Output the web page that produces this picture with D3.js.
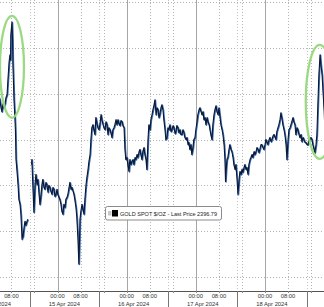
<!DOCTYPE html>
<html><head><meta charset="utf-8">
<script src="https://cdn.jsdelivr.net/npm/d3@7"></script>
<style>html,body{margin:0;padding:0;background:#fff;overflow:hidden}</style>
</head><body>
<svg id="c" width="324" height="307"></svg>
<script>
// ---- data (hours since 12 Apr 2024 00:00, weekend removed) ----
const session1Hours = [3.6,4.0,4.4,4.7,5.1,5.4,5.8,6.1,6.5,6.8,
  7.2,7.5,7.7,7.8,8.2,8.4,8.5,8.7,8.9,9.2,
  9.4,9.6,9.9,10.3,10.6,11.0,11.3,11.7,11.8,12.0,
  12.4,12.7,13.0,13.4,13.7];
const session1Prices = [2398.7,2397.4,2393.9,2392.2,2395.7,2393.9,2395.7,2398.3,2399.6,2406.1,
  2413.9,2417,2414.8,2425.7,2431.3,2423.5,2413.9,2406,2397.4,2390,
  2384.3,2371.3,2367,2360.4,2353.9,2351.7,2347.4,2336.5,2338.7,2337.4,
  2341.7,2344.3,2342.6,2344.3,2345.2];

const session2Hours = [15.0,15.1,15.5,15.8,16.2,16.5,16.9,17.2,17.6,17.9,
  18.3,18.6,18.9,19.3,19.6,20.0,20.3,20.7,21.0,21.4,
  21.7,22.1,22.4,22.8,23.1,23.5,23.8,24.1,24.5,24.8,
  25.2,25.5,25.9,26.2,26.6,26.9,27.3,27.6,28.0,28.3,
  28.7,29.0,29.4,29.7,30.0,30.4,30.7,31.1,31.4,31.6,
  31.8,32.1,32.5,32.8,33.2,33.5,33.9,34.2,34.6,34.9,
  35.3,35.6,35.9,36.3,36.6,37.0,37.3,37.7,38.0,38.4,
  38.7,39.1,39.4,39.8,40.1,40.5,40.8,41.2,41.5,41.8,
  42.2,42.5,42.9,43.2,43.6,43.9,44.3,44.6,45.0,45.3,
  45.7,46.0,46.4,46.7,47.1,47.4,47.7,48.1,48.4,48.8,
  49.1,49.5,49.8,50.2,50.5,50.9,51.2,51.6,51.9,52.3,
  52.6,52.9,53.3,53.6,54.0,54.3,54.7,55.0,55.4,55.7,
  56.1,56.4,56.8,57.1,57.5,57.8,58.2,58.5,58.9,59.2,
  59.5,59.9,60.2,60.6,60.9,61.3,61.6,62.0,62.3,62.7,
  63.0,63.4,63.7,64.1,64.4,64.8,65.1,65.4,65.8,66.1,
  66.5,66.8,67.2,67.5,67.9,68.2,68.6,68.9,69.3,69.6,
  69.9,70.3,70.6,71.0,71.3,71.7,72.0,72.4,72.7,73.1,
  73.4,73.8,74.1,74.5,74.8,75.2,75.5,75.9,76.2,76.6,
  76.9,77.2,77.6,77.9,78.3,78.6,79.0,79.3,79.7,80.0,
  80.4,80.7,81.1,81.4,81.8,82.1,82.3,82.5,82.8,83.1,
  83.5,83.8,84.2,84.5,84.9,85.2,85.6,85.9,86.3,86.6,
  87.0,87.3,87.7,88.0,88.3,88.7,89.0,89.4,89.7,90.1,
  90.4,90.8,91.1,91.5,91.8,92.2,92.5,92.9,93.2,93.6,
  93.9,94.2,94.6,94.9,95.3,95.6,96.0,96.3,96.7,97.0,
  97.4,97.7,98.1,98.4,98.8,99.1,99.5,99.8,100.1,100.5,
  100.8,101.2,101.5,101.9,102.2,102.6,102.9,103.3,103.6,104.0,
  104.3,104.7,105.0,105.3,105.7,106.0,106.4,106.7,107.1,107.4,
  107.8,108.1,108.5,108.8,109.2,109.5,109.9,110.2,110.6,110.9,
  111.3,111.6,111.9,112.3,112.6,113.0,113.3,113.7,114.0,114.4,
  114.7,115.1,115.4,115.8,116.1,116.5,116.8];
const session2Prices = [2369.1,2371.3,2358.3,2348.3,2360.4,2364.8,2360.4,2362.6,2356.1,2351.7,
  2356.1,2360.4,2362.6,2359.1,2358.3,2361.3,2360.4,2357,2360,2359.1,
  2357.4,2356.1,2359.1,2358.3,2355.2,2356.1,2358.3,2356.1,2354.8,2353.9,
  2351.7,2348.7,2347.4,2351.7,2350.4,2353.9,2354.8,2356.1,2359.1,2361.3,
  2358.3,2359.1,2357.4,2356.1,2353.9,2350.4,2346.1,2336.5,2325.7,2334.3,
  2345.2,2348.7,2351.7,2349.6,2347.4,2353.9,2360.4,2363.5,2367,2370.4,
  2373.5,2380,2385.2,2386.5,2384.3,2382.2,2389.6,2387,2385.2,2384.3,
  2386.5,2390.9,2388.7,2386.5,2385.2,2384.3,2387.8,2386.5,2382.2,2385.2,
  2384.3,2383,2380.9,2384.3,2385.2,2386.5,2388.7,2386.5,2388.7,2387,
  2386.1,2388.3,2387.8,2386.1,2385.2,2375.7,2371.3,2372.2,2369.1,2366.1,
  2371.3,2369.1,2370.4,2371.3,2369.1,2372.2,2371.3,2373.5,2372.2,2374.8,
  2375.7,2373.5,2371.3,2374.8,2376.5,2373.5,2371.3,2367,2380,2386.5,
  2384.3,2388.7,2390.9,2393,2395.2,2397.4,2390.9,2393.9,2393,2389.6,
  2390.9,2393.9,2395.2,2393,2388.7,2384.3,2380,2380.9,2385.2,2384.3,
  2386.5,2383.5,2384.3,2386.1,2385.2,2382.6,2383.5,2386.1,2385.2,2383,
  2384.3,2382.2,2382.2,2384.3,2383,2380.9,2380,2380.9,2377.8,2378.7,
  2375.7,2377.8,2373.5,2376.5,2380,2380.9,2384.3,2387.8,2390.9,2393,
  2393.9,2392.2,2390.9,2392.2,2388.7,2389.6,2386.5,2389.6,2387.8,2386.5,
  2384.3,2382.2,2380,2386.5,2390.9,2393,2394.8,2392.2,2390.9,2393.9,
  2389.6,2386.5,2384.3,2382.2,2377.8,2371.3,2361.7,2366.5,2371.3,2372.2,
  2375.7,2377.8,2375.7,2374.8,2372.2,2369.1,2367,2369.1,2362.6,2356.1,
  2362.6,2366.1,2364.8,2367,2365.7,2367.8,2369.1,2367,2367.8,2364.8,
  2369.1,2371.3,2372.2,2373.5,2372.2,2374.8,2373.5,2374.8,2376.5,2375.7,
  2374.3,2375.7,2377.8,2377.8,2376.5,2375.7,2377.8,2380,2378.7,2377.8,
  2380,2380.9,2379.1,2380,2381.7,2382.2,2380.9,2380,2383.5,2385.2,
  2386.5,2388.7,2391.7,2389.1,2386.5,2384.3,2382.2,2377.8,2371.3,2380,
  2384.3,2385.2,2386.5,2387.8,2389.6,2387.8,2386.5,2382.2,2385.2,2384.3,
  2382.2,2380.9,2382.2,2379.1,2380.9,2380,2378.7,2378.7,2377.8,2377.8,
  2380,2380,2380.9,2380,2377.8,2375.7,2374.3,2377.8,2382.2,2397.4,
  2408.3,2417,2412.6,2408.3,2401.7,2393,2384.3];

const priceGrid = [2440,2420,2400,2380,2360,2340,2320];
const gridHours = d3.range(0, 121, 8);           // 00:00 / 08:00 / 16:00 grid
const dayStartHours = [0, 24, 48, 72, 96, 120];
const tickLabelHours = [8, 24, 32, 48, 56, 72, 80, 96, 104];
const tickLabels = ["08:00","00:00","08:00","00:00","08:00","00:00","08:00","00:00","08:00"];
const daySeparators = [-9.6, 14.4, 38.4, 62.4, 86.4, 110.4];
const dayLabels = ["12 Apr 2024","15 Apr 2024","16 Apr 2024","17 Apr 2024","18 Apr 2024"];
const legendText = "GOLD SPOT $/OZ - Last Price 2396.79";
const highlights = [[8.2, 2411.8], [115.0, 2396.5]]; // ellipse centres (hour, price)

// ---- layout ----
const W = 324, H = 307, plotBottom = 291;
const x = d3.scaleLinear().domain([24, 96]).range([57.5, 265]);
const y = d3.scaleLinear().domain([2320, 2420]).range([277, 48]);
const svg = d3.select("#c");

// horizontal dotted grid
svg.append("g").selectAll("line").data(priceGrid).join("line")
  .attr("x1", 0).attr("x2", W)
  .attr("y1", d => Math.round(y(d)) + 0.5).attr("y2", d => Math.round(y(d)) + 0.5)
  .attr("stroke", "#b4b4b4").attr("stroke-width", 1).attr("stroke-dasharray", "1,2");

// vertical grid
svg.append("g").selectAll("line").data(gridHours.filter(h => h % 24 !== 0)).join("line")
  .attr("x1", d => Math.round(x(d)) + 0.5).attr("x2", d => Math.round(x(d)) + 0.5)
  .attr("y1", 0).attr("y2", plotBottom)
  .attr("stroke", "#b4b4b4").attr("stroke-dasharray", "1,2");
svg.append("g").selectAll("line").data(daySeparators).join("line")
  .attr("x1", d => Math.round(x(d)) + 0.5).attr("x2", d => Math.round(x(d)) + 0.5)
  .attr("y1", 0).attr("y2", plotBottom)
  .attr("stroke", "#c4c4c4").attr("stroke-dasharray", "1,2");
svg.append("g").selectAll("line").data(dayStartHours).join("line")
  .attr("x1", d => Math.round(x(d)) + 0.5).attr("x2", d => Math.round(x(d)) + 0.5)
  .attr("y1", 0).attr("y2", plotBottom)
  .attr("stroke", "#a6a6a6").attr("stroke-width", 1);

// price line
const line = d3.line().x(d => x(d[0])).y(d => y(d[1]));
const s1 = session1Hours.map((h, i) => [h, session1Prices[i]]);
const s2 = session2Hours.map((h, i) => [h, session2Prices[i]]);
[s1, s2].forEach(s => {
  svg.append("path").attr("d", line(s)).attr("fill", "none")
    .attr("stroke", "#3d70b4").attr("stroke-width", 1.5).attr("stroke-linejoin", "round")
    .attr("transform", "translate(0.6,0.5)");
  svg.append("path").attr("d", line(s)).attr("fill", "none")
    .attr("stroke", "#0b1733").attr("stroke-width", 1.1).attr("stroke-linejoin", "round");
});

// green highlight ellipses
const ell = [[12, 51], [14, 57]];
svg.append("g").selectAll("ellipse").data(highlights).join("ellipse")
  .attr("cx", d => x(d[0])).attr("cy", d => y(d[1]))
  .attr("rx", (d, i) => ell[i][0]).attr("ry", (d, i) => ell[i][1])
  .attr("fill", "none").attr("stroke", "#97d77c").attr("stroke-width", 2.3).attr("opacity", 0.95);

// x axis
svg.append("line").attr("x1", 0).attr("x2", W).attr("y1", plotBottom + 0.5).attr("y2", plotBottom + 0.5)
  .attr("stroke", "#555");
svg.append("g").selectAll("line").data(daySeparators).join("line")
  .attr("x1", d => Math.round(x(d)) + 0.5).attr("x2", d => Math.round(x(d)) + 0.5)
  .attr("y1", plotBottom).attr("y2", H).attr("stroke", "#777");
svg.append("g").selectAll("line").data(gridHours).join("line")
  .attr("x1", d => Math.round(x(d)) + 0.5).attr("x2", d => Math.round(x(d)) + 0.5)
  .attr("y1", plotBottom).attr("y2", plotBottom + 2).attr("stroke", "#888");
svg.append("g").selectAll("text").data(tickLabelHours).join("text")
  .attr("x", d => x(d)).attr("y", 297.5).attr("text-anchor", "middle")
  .attr("font-family", "Liberation Sans, Arial, sans-serif").attr("font-size", 5.8).attr("fill", "#333")
  .text((d, i) => tickLabels[i]);
svg.append("g").selectAll("text").data(dayLabels).join("text")
  .attr("x", (d, i) => (x(daySeparators[i]) + x(daySeparators[i + 1])) / 2).attr("y", 305.5)
  .attr("text-anchor", "middle")
  .attr("font-family", "Liberation Sans, Arial, sans-serif").attr("font-size", 5.8).attr("fill", "#333")
  .text(d => d);

// legend
const lg = svg.append("g");
lg.append("rect").attr("x", 105.5).attr("y", 206.5).attr("width", 116).attr("height", 13.5).attr("rx", 2)
  .attr("fill", "#fff").attr("stroke", "#8a8a8a").attr("stroke-width", 1);
lg.append("rect").attr("x", 108).attr("y", 211).attr("width", 3.5).attr("height", 4.5).attr("fill", "#c8c8c8");
lg.append("rect").attr("x", 112).attr("y", 210).attr("width", 6).attr("height", 6.5).attr("fill", "#000");
lg.append("text").attr("x", 120).attr("y", 215.5)
  .attr("font-family", "Liberation Sans, Arial, sans-serif").attr("font-size", 5.8).attr("fill", "#222")
  .attr("textLength", 97).attr("lengthAdjust", "spacingAndGlyphs")
  .text(legendText);
</script>
</body></html>
